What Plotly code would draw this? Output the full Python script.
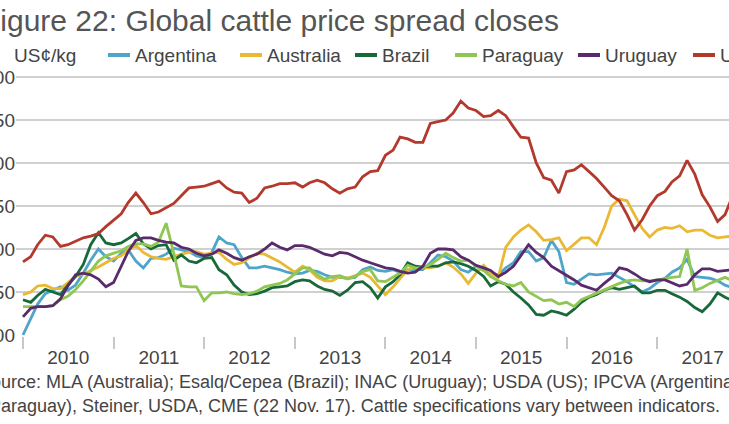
import pandas as pd
import plotly.graph_objects as go

# ---------------- data ----------------
months = pd.date_range("2010-01-01", periods=95, freq="MS")

series_names = ["Argentina", "Australia", "Brazil", "Paraguay", "Uruguay", "US"]

argentina = [100, 120, 136, 148, 152, 156, 152, 158, 172, 187,
             200, 191, 186, 195, 199, 186, 178, 189, 190, 194,
             201, 199, 197, 192, 190, 196, 214, 207, 205, 190,
             178, 178, 180, 178, 176, 173, 171, 172, 175, 174,
             170, 167, 167, 166, 167, 176, 179, 175, 174, 176,
             173, 176, 176, 176, 184, 193, 191, 186, 176, 173,
             180, 175, 172, 170, 178, 184, 197, 197, 186, 190,
             210, 197, 161, 159, 165, 171, 170, 171, 172, 167,
             162, 156, 150, 154, 161, 166, 173, 178, 188, 168,
             167, 166, 163, 158, 155]

australia = [147, 150, 157, 158, 154, 154, 161, 168, 171, 175,
             179, 184, 189, 192, 199, 204, 196, 191, 189, 188,
             191, 194, 196, 197, 194, 195, 196, 188, 182, 184,
             189, 195, 194, 190, 185, 179, 173, 180, 176, 167,
             163, 163, 168, 166, 169, 172, 167, 157, 147, 156,
             166, 176, 179, 178, 178, 180, 184, 179, 171, 160,
             172, 181, 172, 167, 202, 214, 222, 228, 220, 210,
             211, 213, 198, 206, 213, 213, 205, 225, 250, 258,
             256, 240, 224, 214, 222, 225, 224, 227, 220, 222,
             222, 216, 213, 214, 215]

brazil = [141, 138, 146, 153, 150, 147, 158, 168, 182, 205,
          219, 207, 205, 207, 212, 218, 206, 200, 204, 205,
          187, 193, 186, 184, 189, 190, 176, 170, 158, 150,
          147, 148, 151, 155, 156, 157, 162, 164, 163, 157,
          153, 151, 146, 152, 161, 162, 155, 143, 156, 162,
          170, 184, 180, 179, 180, 180, 184, 185, 183, 180,
          175, 168, 157, 162, 159, 150, 143, 135, 124, 123,
          128, 126, 123, 130, 138, 144, 147, 152, 155, 153,
          155, 157, 149, 149, 152, 152, 148, 144, 139, 132,
          127, 136, 149, 144, 140]

paraguay = [133, 133, 133, 133, 134, 141, 145, 153, 163, 175,
            186, 192, 195, 198, 203, 206, 206, 203, 208, 230,
            195, 157, 156, 156, 140, 149, 149, 150, 148, 147,
            148, 151, 156, 158, 160, 164, 171, 178, 178, 170,
            165, 168, 169, 165, 168, 174, 176, 163, 162, 167,
            172, 181, 178, 178, 182, 188, 195, 190, 186, 187,
            180, 175, 168, 163, 159, 157, 161, 150, 145, 140,
            141, 136, 138, 133, 141, 145, 149, 153, 156, 160,
            163, 164, 163, 163, 164, 166, 167, 168, 200, 152,
            155, 160, 164, 167, 163]

uruguay = [121, 131, 133, 133, 134, 142, 157, 170, 172, 170,
           165, 156, 161, 179, 197, 210, 213, 213, 210, 208,
           207, 202, 200, 195, 192, 194, 199, 195, 190, 187,
           191, 194, 200, 207, 202, 199, 204, 204, 202, 198,
           194, 192, 196, 195, 191, 187, 184, 181, 178, 177,
           174, 172, 173, 180, 195, 200, 200, 199, 191, 187,
           181, 178, 175, 168, 173, 180, 193, 205, 196, 190,
           180, 175, 169, 164, 158, 155, 152, 160, 167, 178,
           176, 171, 165, 162, 164, 164, 161, 157, 159, 170,
           177, 177, 174, 175, 176]

us = [185, 191, 205, 216, 214, 203, 205, 209, 213, 215,
      218, 226, 233, 241, 254, 265, 254, 241, 243, 248,
      253, 262, 271, 272, 273, 276, 279, 271, 266, 265,
      254, 259, 271, 273, 276, 276, 277, 272, 277, 280,
      277, 270, 265, 270, 272, 284, 290, 291, 309, 315,
      330, 328, 324, 324, 346, 348, 350, 358, 372, 364,
      361, 354, 355, 361, 355, 342, 330, 329, 300, 283,
      280, 265, 290, 292, 298, 290, 282, 272, 262, 256,
      240, 222, 234, 250, 262, 267, 278, 285, 303, 287,
      263, 249, 232, 240, 262]

series_values = [argentina, australia, brazil, paraguay, uruguay, us]

y_tick_values = [100, 150, 200, 250, 300, 350, 400]
unit_label = "US¢/kg"
title_text = "Figure 22: Global cattle price spread closes"
source_line1 = "Source: MLA (Australia); Esalq/Cepea (Brazil); INAC (Uruguay); USDA (US); IPCVA (Argentina,"
source_line2 = "Paraguay), Steiner, USDA, CME (22 Nov. 17). Cattle specifications vary between indicators."

# ---------------- styles / layout ----------------
colors = ["#4ea5c9", "#eab933", "#18693a", "#90c652", "#5a2b6c", "#b3392c"]
FONT = "Liberation Sans, Arial, Helvetica, sans-serif"

W, H = 729, 424
L, R, T, B = 16, 0, 74, 88


def px(x):
    return (x - L) / (W - L - R)


def py(y):
    return (H - B - y) / (H - T - B)


fig = go.Figure()
for name, vals, col in zip(series_names, series_values, colors):
    fig.add_trace(go.Scatter(
        x=months, y=vals, mode="lines", name=name,
        line=dict(color=col, width=2.8), showlegend=False,
        hoverinfo="x+y+name",
    ))

fig.update_layout(
    width=W, height=H,
    margin=dict(l=L, r=R, t=T, b=B, pad=0, autoexpand=False),
    paper_bgcolor="white", plot_bgcolor="white",
    font=dict(family=FONT, color="#444", size=19),
    showlegend=False,
)

fig.update_xaxes(
    type="date", range=["2009-12-03 19:00", "2017-10-17"],
    tickmode="linear", tick0="2010-01-01", dtick="M12",
    ticklabelmode="period", tickformat="%Y",
    ticks="outside", ticklen=12, tickwidth=1.5, tickcolor="#c8c8c8",
    ticklabelstandoff=-8,
    showgrid=False, showline=False, zeroline=False,
    tickfont=dict(size=19, color="#444", family=FONT), automargin=False,
)
fig.update_yaxes(
    range=[98.84, 403.49], tickmode="array", tickvals=y_tick_values,
    ticktext=[str(v) for v in y_tick_values],
    showgrid=True, gridcolor="#d0d0d0", gridwidth=1.6,
    zeroline=False, showline=False, ticks="",
    tickfont=dict(size=19, color="#444", family=FONT), automargin=False,
)

annotations = []
shapes = []

# title (left part falls outside the picture, as in the reference)
annotations.append(dict(text=title_text, xref="paper", yref="paper",
                        x=px(561), y=py(21), xanchor="right", yanchor="middle",
                        showarrow=False, font=dict(size=30, color="#555", family=FONT)))
# unit label
annotations.append(dict(text=unit_label, xref="paper", yref="paper",
                        x=px(12), y=py(55), xanchor="left", yanchor="middle",
                        showarrow=False, font=dict(size=19, color="#444", family=FONT)))

# legend (custom so that it can run off the right edge)
legend_x = [108, 240, 355, 455, 578, 693]
for name, col, lx in zip(series_names, colors, legend_x):
    shapes.append(dict(type="line", xref="paper", yref="paper",
                       x0=px(lx), x1=px(lx + 22), y0=py(55), y1=py(55),
                       line=dict(color=col, width=4)))
    annotations.append(dict(text=name, xref="paper", yref="paper",
                            x=px(lx + 25), y=py(55), xanchor="left", yanchor="middle",
                            showarrow=False, font=dict(size=19, color="#444", family=FONT)))

# source lines
annotations.append(dict(text=source_line1, xref="paper", yref="paper",
                        x=px(-23), y=py(382), xanchor="left", yanchor="middle",
                        showarrow=False, font=dict(size=18, color="#444", family=FONT)))
annotations.append(dict(text=source_line2, xref="paper", yref="paper",
                        x=px(722), y=py(406), xanchor="right", yanchor="middle",
                        showarrow=False, font=dict(size=18, color="#444", family=FONT)))

fig.update_layout(annotations=annotations, shapes=shapes)

fig.write_html("out.html")
